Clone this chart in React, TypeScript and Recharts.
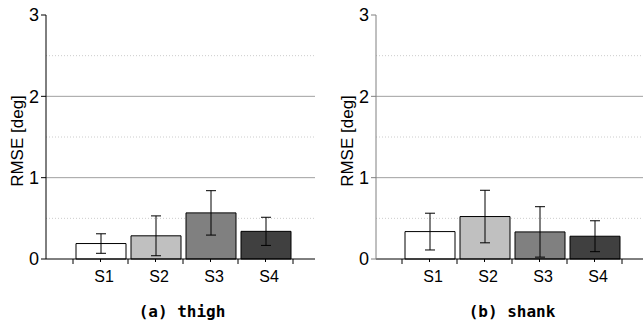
import React from 'react';
import { BarChart, Bar, XAxis, YAxis, CartesianGrid, ErrorBar, Cell } from 'recharts';

const categories = ['S1', 'S2', 'S3', 'S4'];
const thighMean = [0.19, 0.285, 0.567, 0.34];
const thighErr = [0.12, 0.245, 0.273, 0.173];
const shankMean = [0.337, 0.522, 0.333, 0.28];
const shankErr = [0.226, 0.323, 0.31, 0.19];
const barFills = ['#ffffff', '#c0c0c0', '#808080', '#404040'];
const yTicks = [0, 1, 2, 3];
const solidGrid = [1, 2];
const dottedGrid = [0.5, 1.5, 2.5];

const FONT = '"Liberation Sans", Arial, sans-serif';

const build = (mean: number[], err: number[]) =>
  categories.map((c, i) => ({ cat: c, value: mean[i], err: err[i] }));

const thighData = build(thighMean, thighErr);
const shankData = build(shankMean, shankErr);

const XTick = (props: any) => {
  const { x, y, payload } = props;
  const off = payload && payload.offset ? payload.offset : 27.5;
  const isLast = payload.index === categories.length - 1;
  return (
    <g>
      <line x1={x - off} x2={x - off} y1={y} y2={y + 5} stroke="#000" />
      {isLast && <line x1={x + off} x2={x + off} y1={y} y2={y + 5} stroke="#000" />}
      <line x1={x} x2={x} y1={y} y2={y + 3} stroke="#000" />
      <text x={x + 3.5} y={y + 23} textAnchor="middle" fontSize={16} fontFamily={FONT} fill="#000">
        {payload.value}
      </text>
    </g>
  );
};

type PanelProps = {
  data: any[];
  width: number;
  rightMargin: number;
  yAxisWidth: number;
  padLeft: number;
  padRight: number;
  labelX: number;
  axisColor: string;
};

const Panel = ({ data, width, rightMargin, yAxisWidth, padLeft, padRight, labelX, axisColor }: PanelProps) => (
  <BarChart
    width={width}
    height={326}
    data={data}
    margin={{ top: 15, right: rightMargin, bottom: 37, left: 0 }}
  >
    <CartesianGrid vertical={false} horizontalValues={dottedGrid} stroke="#cccccc" strokeDasharray="1 2" />
    <CartesianGrid vertical={false} horizontalValues={solidGrid} stroke="#a0a0a0" />
    <XAxis
      dataKey="cat"
      padding={{ left: padLeft, right: padRight }}
      tickLine={false}
      tickSize={0}
      tickMargin={0}
      height={30}
      interval={0}
      axisLine={{ stroke: '#000' }}
      tick={<XTick />}
    />
    <YAxis
      domain={[0, 3]}
      ticks={yTicks}
      width={yAxisWidth}
      tickSize={5}
      tickMargin={2}
      axisLine={{ stroke: axisColor }}
      tickLine={{ stroke: axisColor }}
      tick={{ fontSize: 18, fontFamily: FONT, fill: '#000' }}
      label={{
        content: () => (
          <text
            x={labelX}
            y={141}
            transform={`rotate(-90 ${labelX} 141)`}
            textAnchor="middle"
            dominantBaseline="central"
            fontSize={17}
            fontFamily={FONT}
            fill="#000"
          >
            RMSE [deg]
          </text>
        ),
      }}
    />
    <Bar dataKey="value" barSize={50} stroke="#000" strokeWidth={1} isAnimationActive={false}>
      {data.map((d, i) => (
        <Cell key={d.cat} fill={barFills[i]} />
      ))}
      <ErrorBar dataKey="err" width={5} stroke="#000" strokeWidth={1} isAnimationActive={false} />
    </Bar>
  </BarChart>
);

const titleStyle: React.CSSProperties = {
  position: 'absolute',
  top: 302,
  width: 200,
  textAlign: 'center',
  fontFamily: '"DejaVu Sans Mono", monospace',
  fontWeight: 'bold',
  fontSize: 16,
  lineHeight: '20px',
  color: '#000',
};

export default function App() {
  return (
    <div style={{ position: 'absolute', left: 0, top: 0, width: 643, height: 326, background: '#fff', overflow: 'hidden' }}>
      <div style={{ position: 'absolute', left: 0, top: 0 }}>
        <Panel data={thighData} width={320} rightMargin={5} yAxisWidth={46} padLeft={27} padRight={22} labelX={17} axisColor="#000" />
      </div>
      <div style={{ position: 'absolute', left: 320, top: 0 }}>
        <Panel data={shankData} width={323} rightMargin={0} yAxisWidth={56} padLeft={26} padRight={21} labelX={27} axisColor="#808080" />
      </div>
      <div style={{ ...titleStyle, left: 82 }}>(a) thigh</div>
      <div style={{ ...titleStyle, left: 412 }}>(b) shank</div>
    </div>
  );
}
